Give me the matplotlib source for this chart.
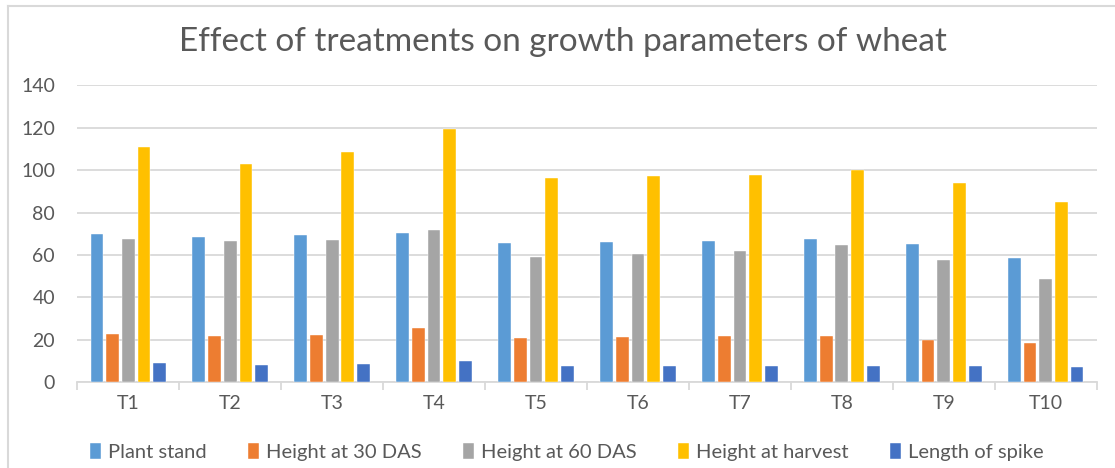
import matplotlib
matplotlib.use("Agg")
import matplotlib.pyplot as plt
import numpy as np
from matplotlib.lines import Line2D

categories = ["T1", "T2", "T3", "T4", "T5", "T6", "T7", "T8", "T9", "T10"]
series_names = ["Plant stand", "Height at 30 DAS", "Height at 60 DAS",
                "Height at harvest", "Length of spike"]
plant_stand = [69.9, 68.7, 69.6, 70.5, 65.5, 66.1, 66.8, 67.6, 65.2, 58.6]
height_30 = [22.8, 22.0, 22.1, 25.8, 20.9, 21.2, 21.7, 21.8, 20.1, 18.7]
height_60 = [67.4, 66.8, 66.9, 71.6, 58.9, 60.5, 61.8, 64.6, 57.7, 48.9]
height_harvest = [111.1, 102.9, 108.4, 119.4, 96.5, 97.3, 97.9, 99.9, 94.0, 84.9]
spike_length = [8.9, 8.3, 8.6, 10.2, 7.7, 7.7, 7.7, 7.7, 7.5, 7.3]
yticks = [0, 20, 40, 60, 80, 100, 120, 140]

colors = ["#5B9BD5", "#ED7D31", "#A5A5A5", "#FFC000", "#4472C4"]
text_color = "#595959"
grid_color = "#D9D9D9"

plt.rcParams['font.family'] = ['Lato', 'DejaVu Sans']

fig = plt.figure(figsize=(11.15, 4.68), dpi=100)
ax = fig.add_axes([77.3 / 1115, (468 - 382.3) / 468, (1096.7 - 77.3) / 1115, (382.3 - 85.3) / 468])

data = [plant_stand, height_30, height_60, height_harvest, spike_length]
x = np.arange(len(categories))
pitch = 0.154
width = 0.125
for i, (name, vals, c) in enumerate(zip(series_names, data, colors)):
    offs = (i - 2) * pitch
    ax.bar(x + offs, vals, width=width, color=c, label=name, zorder=3,
           edgecolor="white", linewidth=0.3)

ax.set_xlim(-0.5, len(categories) - 0.5)
ax.set_ylim(0, 140)
ax.set_yticks(yticks)
ax.set_yticklabels([str(v) for v in yticks])
ax.yaxis.grid(True, color=grid_color, linewidth=1.3, zorder=0)
ax.set_axisbelow(True)
for s in ["top", "right", "left"]:
    ax.spines[s].set_visible(False)
ax.spines["bottom"].set_color(grid_color)
ax.spines["bottom"].set_linewidth(1.3)
ax.tick_params(axis="y", length=0, labelsize=14, labelcolor=text_color, pad=16)
ax.set_xticks(x)
ax.set_xticklabels(categories)
ax.tick_params(axis="x", which="major", length=0, labelsize=14, labelcolor=text_color, pad=9)
ax.set_xticks(np.arange(-0.5, len(categories)), minor=True)
ax.tick_params(axis="x", which="minor", length=6, color=grid_color, width=1.3)

fig.text(563 / 1115, 1 - 42 / 468, "Effect of treatments on growth parameters of wheat",
         ha="center", va="center", fontsize=24, color=text_color)

leg = fig.legend(loc="center", bbox_to_anchor=(567 / 1115, 1 - 452 / 468), ncol=5,
                 frameon=False, fontsize=14.5, handlelength=0.55, handleheight=0.8,
                 handletextpad=0.35, columnspacing=2.05, labelcolor=text_color)

# outer chart border (left & top visible)
fig.add_artist(Line2D([8 / 1115, 8 / 1115], [0, 1 - 6 / 468], color="#D9D9D9", linewidth=1.5,
                      transform=fig.transFigure))
fig.add_artist(Line2D([8 / 1115, 1], [1 - 6 / 468, 1 - 6 / 468], color="#D9D9D9", linewidth=1.5,
                      transform=fig.transFigure))

fig.savefig("out.png", dpi=100)
